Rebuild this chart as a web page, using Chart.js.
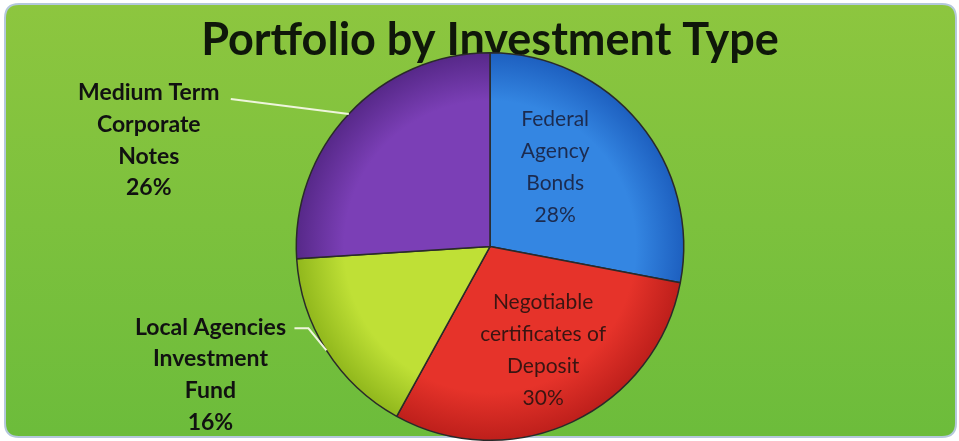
<!DOCTYPE html>
<html>
<head>
<meta charset="utf-8">
<script src="https://cdn.jsdelivr.net/npm/chart.js@4"></script>
<style>
  html, body { margin: 0; padding: 0; background: #fff; }
  #wrap { width: 959px; height: 441px; }
</style>
</head>
<body>
<div id="wrap"><canvas id="portfolioChart"></canvas></div>
<script>
// data
const categories = ['Federal Agency Bonds', 'Negotiable certificates of Deposit', 'Local Agencies Investment Fund', 'Medium Term Corporate Notes'];
const labelLines = [['Federal', 'Agency', 'Bonds'], ['Negotiable', 'certificates of', 'Deposit'], ['Local Agencies', 'Investment', 'Fund'], ['Medium Term', 'Corporate', 'Notes']];
const shares = [28, 30, 16, 26];

// slice colours: lighter centre, darker rim
const centreColors = ['#3486e2', '#e6332a', '#bfe036', '#7b3fb6'];
const rimColors = ['#1d5fbf', '#bd1f1b', '#90b71c', '#562888'];

// where each label goes (inside the slice, or out with a leader line)
const placement = [
    { inside: true, r: 0.53, shift: -11, color: '#1c2b4f' },
    { inside: true, r: 0.6, shift: -2, color: '#3a1512' },
    { inside: false, legs: [[-18, -22], [-14, 0]], text: [-84, -1] },
    { inside: false, legs: [[-118, -15]], text: [-82, -6] }
];

const panelBackground = {
    id: 'panelBackground',
    beforeDraw(chart) {
        const ctx = chart.ctx;
        const w = chart.width, h = chart.height;
        ctx.save();
        ctx.fillStyle = '#ffffff';
        ctx.fillRect(0, 0, w, h);
        const x0 = 5, y0 = 4, x1 = w - 3, y1 = h - 4, rad = 14;
        ctx.beginPath();
        ctx.moveTo(x0 + rad, y0);
        ctx.lineTo(x1 - rad, y0);
        ctx.quadraticCurveTo(x1, y0, x1, y0 + rad);
        ctx.lineTo(x1, y1 - rad);
        ctx.quadraticCurveTo(x1, y1, x1 - rad, y1);
        ctx.lineTo(x0 + rad, y1);
        ctx.quadraticCurveTo(x0, y1, x0, y1 - rad);
        ctx.lineTo(x0, y0 + rad);
        ctx.quadraticCurveTo(x0, y0, x0 + rad, y0);
        ctx.closePath();
        const g = ctx.createLinearGradient(0, 0, 0, h);
        g.addColorStop(0, '#8dc63f');
        g.addColorStop(1, '#6cbc3b');
        ctx.fillStyle = g;
        ctx.fill();
        ctx.lineWidth = 2;
        ctx.strokeStyle = '#b4c8dc';
        ctx.stroke();
        ctx.restore();
    }
};

const sliceLabels = {
    id: 'sliceLabels',
    afterDatasetsDraw(chart) {
        const ctx = chart.ctx;
        const meta = chart.getDatasetMeta(0);
        meta.data.forEach((arc, i) => {
            const p = arc.getProps(['x', 'y', 'startAngle', 'endAngle', 'outerRadius'], true);
            const place = placement[i];
            const lines = labelLines[i].concat(shares[i] + '%');
            ctx.save();
            ctx.textAlign = 'center';
            ctx.textBaseline = 'middle';
            if (place.inside) {
                const mid = (p.startAngle + p.endAngle) / 2 + place.shift * Math.PI / 180;
                const r = p.outerRadius * place.r;
                const cx = p.x + Math.cos(mid) * r;
                const cy = p.y + Math.sin(mid) * r;
                const lh = 32;
                ctx.font = '21px Lato';
                ctx.fillStyle = place.color;
                let y = cy - lh * (lines.length - 1) / 2;
                lines.forEach(t => { ctx.fillText(t, cx, y); y += lh; });
            } else {
                const mid = (p.startAngle + p.endAngle) / 2;
                let x = p.x + Math.cos(mid) * p.outerRadius;
                let y = p.y + Math.sin(mid) * p.outerRadius;
                ctx.beginPath();
                ctx.moveTo(x, y);
                place.legs.forEach(l => { x += l[0]; y += l[1]; ctx.lineTo(x, y); });
                ctx.strokeStyle = '#eef5dc';
                ctx.lineWidth = 2;
                ctx.stroke();
                const lh = 31.7;
                ctx.font = 'bold 23px Lato';
                ctx.fillStyle = '#111111';
                let ty = y + place.text[1];
                lines.forEach(t => { ctx.fillText(t, x + place.text[0], ty); ty += lh; });
            }
            ctx.restore();
        });
    }
};

const ctx = document.getElementById('portfolioChart').getContext('2d');
const portfolioChart = new Chart(ctx, {
    type: 'pie',
    data: {
        labels: categories,
        datasets: [{
            data: shares,
            backgroundColor: (c) => {
                const area = c.chart.chartArea;
                if (!area) return centreColors[c.dataIndex];
                const cx = (area.left + area.right) / 2;
                const cy = (area.top + area.bottom) / 2;
                const r = Math.min(area.right - area.left, area.bottom - area.top) / 2;
                const g = c.chart.ctx.createRadialGradient(cx, cy, 0, cx, cy, r);
                g.addColorStop(0, centreColors[c.dataIndex]);
                g.addColorStop(0.75, centreColors[c.dataIndex]);
                g.addColorStop(1, rimColors[c.dataIndex]);
                return g;
            },
            borderColor: '#2a2a2a',
            borderWidth: 1.5
        }]
    },
    options: {
        responsive: true,
        maintainAspectRatio: false,
        animation: false,
        layout: { padding: { left: 121, right: 100, top: 0, bottom: 0 } },
        plugins: {
            legend: { display: false },
            tooltip: { enabled: false },
            title: {
                display: true,
                text: 'Portfolio by Investment Type',
                color: '#0f170a',
                font: { family: 'Lato', size: 45, weight: 'bold', lineHeight: 0.535 },
                padding: { top: 28, bottom: 0 }
            }
        }
    },
    plugins: [panelBackground, sliceLabels]
});
</script>
</body>
</html>
